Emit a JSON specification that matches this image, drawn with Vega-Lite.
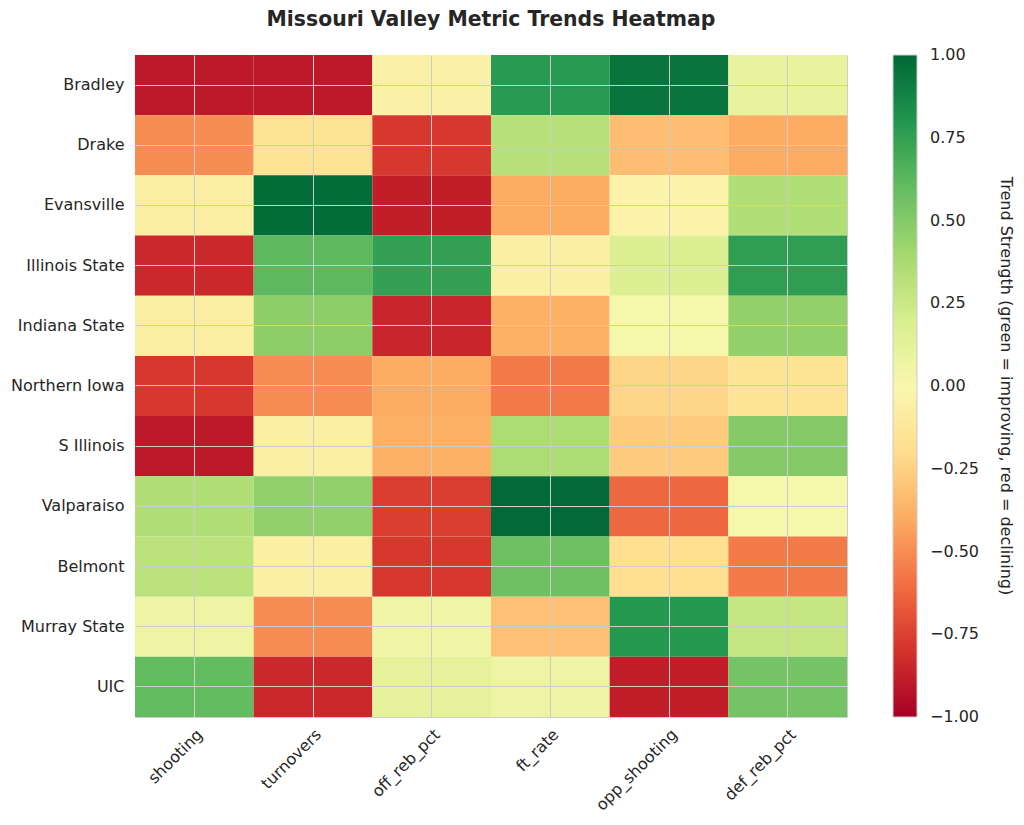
{
  "$schema": "https://vega.github.io/schema/vega-lite/v6.json",
  "autosize": {"type": "none"},
  "padding": {"left": 135, "top": 55, "right": 177, "bottom": 108},
  "width": 712,
  "height": 662,
  "background": "white",
  "title": {
    "text": "Missouri Valley Metric Trends Heatmap",
    "font": "DejaVu Sans",
    "fontSize": 20.4,
    "fontWeight": "bold",
    "color": "#262626",
    "offset": 25,
    "anchor": "middle"
  },
  "config": {
    "font": "DejaVu Sans",
    "view": {"stroke": "#cccccc", "strokeWidth": 1}
  },
  "data": {
    "values": [
      {"team": "Bradley", "metric": "shooting", "value": -0.9},
      {"team": "Bradley", "metric": "turnovers", "value": -0.9},
      {"team": "Bradley", "metric": "off_reb_pct", "value": -0.05},
      {"team": "Bradley", "metric": "ft_rate", "value": 0.78},
      {"team": "Bradley", "metric": "opp_shooting", "value": 0.95},
      {"team": "Bradley", "metric": "def_reb_pct", "value": 0.1},
      {"team": "Drake", "metric": "shooting", "value": -0.5},
      {"team": "Drake", "metric": "turnovers", "value": -0.15},
      {"team": "Drake", "metric": "off_reb_pct", "value": -0.78},
      {"team": "Drake", "metric": "ft_rate", "value": 0.33},
      {"team": "Drake", "metric": "opp_shooting", "value": -0.33},
      {"team": "Drake", "metric": "def_reb_pct", "value": -0.4},
      {"team": "Evansville", "metric": "shooting", "value": -0.08},
      {"team": "Evansville", "metric": "turnovers", "value": 0.98},
      {"team": "Evansville", "metric": "off_reb_pct", "value": -0.88},
      {"team": "Evansville", "metric": "ft_rate", "value": -0.4},
      {"team": "Evansville", "metric": "opp_shooting", "value": -0.03},
      {"team": "Evansville", "metric": "def_reb_pct", "value": 0.35},
      {"team": "Illinois State", "metric": "shooting", "value": -0.84},
      {"team": "Illinois State", "metric": "turnovers", "value": 0.62},
      {"team": "Illinois State", "metric": "off_reb_pct", "value": 0.75},
      {"team": "Illinois State", "metric": "ft_rate", "value": -0.06},
      {"team": "Illinois State", "metric": "opp_shooting", "value": 0.17},
      {"team": "Illinois State", "metric": "def_reb_pct", "value": 0.76},
      {"team": "Indiana State", "metric": "shooting", "value": -0.08},
      {"team": "Indiana State", "metric": "turnovers", "value": 0.47},
      {"team": "Indiana State", "metric": "off_reb_pct", "value": -0.85},
      {"team": "Indiana State", "metric": "ft_rate", "value": -0.38},
      {"team": "Indiana State", "metric": "opp_shooting", "value": 0.01},
      {"team": "Indiana State", "metric": "def_reb_pct", "value": 0.45},
      {"team": "Northern Iowa", "metric": "shooting", "value": -0.78},
      {"team": "Northern Iowa", "metric": "turnovers", "value": -0.5},
      {"team": "Northern Iowa", "metric": "off_reb_pct", "value": -0.4},
      {"team": "Northern Iowa", "metric": "ft_rate", "value": -0.56},
      {"team": "Northern Iowa", "metric": "opp_shooting", "value": -0.23},
      {"team": "Northern Iowa", "metric": "def_reb_pct", "value": -0.15},
      {"team": "S Illinois", "metric": "shooting", "value": -0.9},
      {"team": "S Illinois", "metric": "turnovers", "value": -0.06},
      {"team": "S Illinois", "metric": "off_reb_pct", "value": -0.38},
      {"team": "S Illinois", "metric": "ft_rate", "value": 0.36},
      {"team": "S Illinois", "metric": "opp_shooting", "value": -0.27},
      {"team": "S Illinois", "metric": "def_reb_pct", "value": 0.5},
      {"team": "Valparaiso", "metric": "shooting", "value": 0.35},
      {"team": "Valparaiso", "metric": "turnovers", "value": 0.46},
      {"team": "Valparaiso", "metric": "off_reb_pct", "value": -0.76},
      {"team": "Valparaiso", "metric": "ft_rate", "value": 0.99},
      {"team": "Valparaiso", "metric": "opp_shooting", "value": -0.62},
      {"team": "Valparaiso", "metric": "def_reb_pct", "value": 0.01},
      {"team": "Belmont", "metric": "shooting", "value": 0.31},
      {"team": "Belmont", "metric": "turnovers", "value": -0.06},
      {"team": "Belmont", "metric": "off_reb_pct", "value": -0.78},
      {"team": "Belmont", "metric": "ft_rate", "value": 0.57},
      {"team": "Belmont", "metric": "opp_shooting", "value": -0.18},
      {"team": "Belmont", "metric": "def_reb_pct", "value": -0.56},
      {"team": "Murray State", "metric": "shooting", "value": 0.07},
      {"team": "Murray State", "metric": "turnovers", "value": -0.5},
      {"team": "Murray State", "metric": "off_reb_pct", "value": 0.05},
      {"team": "Murray State", "metric": "ft_rate", "value": -0.32},
      {"team": "Murray State", "metric": "opp_shooting", "value": 0.79},
      {"team": "Murray State", "metric": "def_reb_pct", "value": 0.27},
      {"team": "UIC", "metric": "shooting", "value": 0.6},
      {"team": "UIC", "metric": "turnovers", "value": -0.84},
      {"team": "UIC", "metric": "off_reb_pct", "value": 0.12},
      {"team": "UIC", "metric": "ft_rate", "value": 0.07},
      {"team": "UIC", "metric": "opp_shooting", "value": -0.88},
      {"team": "UIC", "metric": "def_reb_pct", "value": 0.55}
    ]
  },
  "mark": {"type": "rect"},
  "encoding": {
    "x": {
      "field": "metric",
      "type": "nominal",
      "sort": ["shooting", "turnovers", "off_reb_pct", "ft_rate", "opp_shooting", "def_reb_pct"],
      "scale": {"paddingInner": 0, "paddingOuter": 0},
      "axis": {
        "title": null,
        "labelAngle": -45,
        "labelAlign": "right",
        "labelBaseline": "top",
        "labelFontSize": 16,
        "labelColor": "#262626",
        "labelPadding": 9,
        "ticks": false,
        "domain": false,
        "grid": true,
        "gridColor": "#cccccc",
        "gridWidth": 1,
        "bandPosition": 0.5,
        "zindex": 1
      }
    },
    "y": {
      "field": "team",
      "type": "nominal",
      "sort": ["Bradley", "Drake", "Evansville", "Illinois State", "Indiana State", "Northern Iowa", "S Illinois", "Valparaiso", "Belmont", "Murray State", "UIC"],
      "scale": {"paddingInner": 0, "paddingOuter": 0},
      "axis": {
        "title": null,
        "labelFontSize": 16,
        "labelColor": "#262626",
        "labelPadding": 11,
        "ticks": false,
        "domain": false,
        "grid": true,
        "gridColor": "#cccccc",
        "gridWidth": 1,
        "bandPosition": 0.5,
        "zindex": 1
      }
    },
    "color": {
      "field": "value",
      "type": "quantitative",
      "scale": {"scheme": "redyellowgreen", "domain": [-1, 1]},
      "legend": {
        "title": "Trend Strength (green = improving, red = declining)",
        "titleOrient": "right",
        "titleAngle": 90,
        "titleAnchor": "middle",
        "titleFontSize": 16,
        "titleFontWeight": "normal",
        "titleColor": "#262626",
        "titlePadding": 19,
        "titleLimit": 800,
        "orient": "right",
        "offset": 46,
        "padding": 0,
        "direction": "vertical",
        "gradientLength": 662,
        "gradientThickness": 24,
        "gradientStrokeColor": "#cccccc",
        "gradientStrokeWidth": 1,
        "values": [-1, -0.75, -0.5, -0.25, 0, 0.25, 0.5, 0.75, 1],
        "labelExpr": "replace(format(datum.value, '.2f'), '-', '\u2212')",
        "labelFontSize": 16,
        "labelColor": "#262626",
        "labelOffset": 13,
        "labelOverlap": false,
        "encode": {
          "labels": {"update": {"baseline": {"value": "middle"}}}
        }
      }
    }
  }
}
